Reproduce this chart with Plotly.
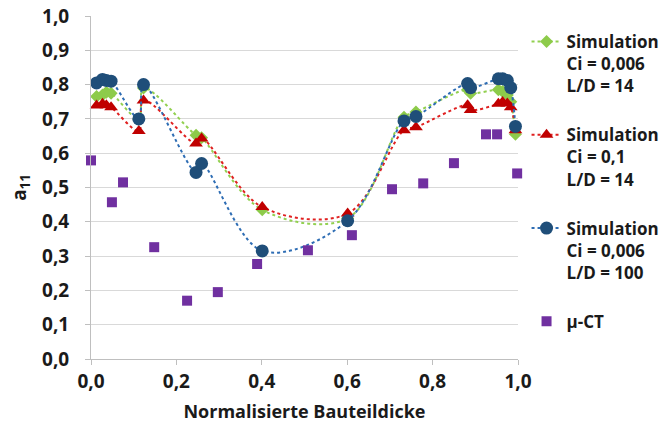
import plotly.graph_objects as go

# Normalised part thickness positions of the simulation nodes
x_sim = [0.013, 0.027, 0.036, 0.047, 0.112, 0.123, 0.246, 0.259, 0.401, 0.601,
         0.733, 0.761, 0.882, 0.889, 0.954, 0.964, 0.975, 0.983, 0.994]

# Orientation tensor component a11 for each simulation case
a11_ci006_ld14 = [0.765, 0.770, 0.778, 0.775, 0.700, 0.790, 0.652, 0.645, 0.435, 0.410,
                  0.705, 0.720, 0.785, 0.775, 0.785, 0.780, 0.770, 0.750, 0.655]
a11_ci01_ld14 = [0.739, 0.744, 0.740, 0.734, 0.665, 0.754, 0.628, 0.643, 0.443, 0.424,
                 0.667, 0.676, 0.740, 0.726, 0.744, 0.749, 0.745, 0.734, 0.667]
a11_ci006_ld100 = [0.805, 0.815, 0.812, 0.810, 0.700, 0.800, 0.544, 0.570, 0.315, 0.403,
                   0.694, 0.707, 0.803, 0.791, 0.817, 0.817, 0.812, 0.791, 0.678]

# Micro-CT measurement
x_ct = [0.000, 0.049, 0.075, 0.148, 0.225, 0.297, 0.389, 0.508, 0.611, 0.705,
        0.778, 0.850, 0.925, 0.951, 0.998]
a11_ct = [0.579, 0.457, 0.515, 0.326, 0.170, 0.195, 0.277, 0.317, 0.361, 0.495,
          0.512, 0.571, 0.655, 0.655, 0.541]

names = ["Simulation<br>Ci = 0,006<br>L/D = 14",
         "Simulation<br>Ci = 0,1<br>L/D = 14",
         "Simulation<br>Ci = 0,006<br>L/D = 100",
         "µ-CT"]

x_ticks = [0.0, 0.2, 0.4, 0.6, 0.8, 1.0]
y_ticks = [0.0, 0.1, 0.2, 0.3, 0.4, 0.5, 0.6, 0.7, 0.8, 0.9, 1.0]

FONT = "Open Sans"
INK = "#1a1a1a"

fig = go.Figure()

sim_styles = [
    (a11_ci006_ld14, "#92D050", "#8DCB4A", "diamond", 10),
    (a11_ci01_ld14, "#E02020", "#C00000", "triangle-up", 12),
    (a11_ci006_ld100, "#2E6DB4", "#1F4E79", "circle", 13),
]
for i, (vals, lcol, mcol, sym, size) in enumerate(sim_styles):
    fig.add_trace(go.Scatter(
        x=x_sim, y=vals, name=names[i], mode="lines+markers",
        line=dict(color=lcol, width=2, dash="dot", shape="spline", smoothing=1),
        marker=dict(color=mcol, symbol=sym, size=size),
        legendgroup=f"g{i}", cliponaxis=False,
    ))

fig.add_trace(go.Scatter(
    x=x_ct, y=a11_ct, name=names[3], mode="markers",
    marker=dict(color="#7030A0", symbol="square", size=10),
    legendgroup="g3", cliponaxis=False,
))

fig.update_layout(
    width=662, height=432,
    margin=dict(l=91, r=144, t=16, b=73, autoexpand=False),
    paper_bgcolor="white", plot_bgcolor="white",
    separators=", ",
    font=dict(family=FONT, size=17, color=INK, weight="bold"),
    showlegend=True,
    legend=dict(
        x=1.02, xanchor="left", y=0.977, yanchor="top",
        font=dict(family=FONT, size=17, color=INK, weight="bold"),
        valign="top", tracegroupgap=24, itemwidth=30,
        maxheight=420,
        bgcolor="rgba(0,0,0,0)",
    ),
    xaxis=dict(
        range=[0, 1], tickvals=x_ticks, tickformat=".1f",
        showgrid=False, zeroline=False,
        showline=True, linecolor="#bfbfbf", linewidth=1,
        ticks="outside", ticklen=5, tickcolor="#bfbfbf",
        tickfont=dict(family=FONT, size=19, color=INK, weight="bold"),
        title=dict(text="Normalisierte Bauteildicke", standoff=12,
                   font=dict(family=FONT, size=18, color=INK, weight="bold")),
    ),
    yaxis=dict(
        range=[0, 1], tickvals=y_ticks, tickformat=".1f",
        showgrid=True, gridcolor="#d9d9d9", gridwidth=1,
        zeroline=False, showline=True, linecolor="#bfbfbf", linewidth=1,
        ticks="outside", ticklen=5, tickcolor="#bfbfbf",
        ticklabelstandoff=12,
        tickfont=dict(family=FONT, size=19, color=INK, weight="bold"),
        title=dict(text="a<sub>11</sub>", standoff=10,
                   font=dict(family=FONT, size=19, color=INK, weight="bold")),
    ),
)

fig.write_html("out.html")
